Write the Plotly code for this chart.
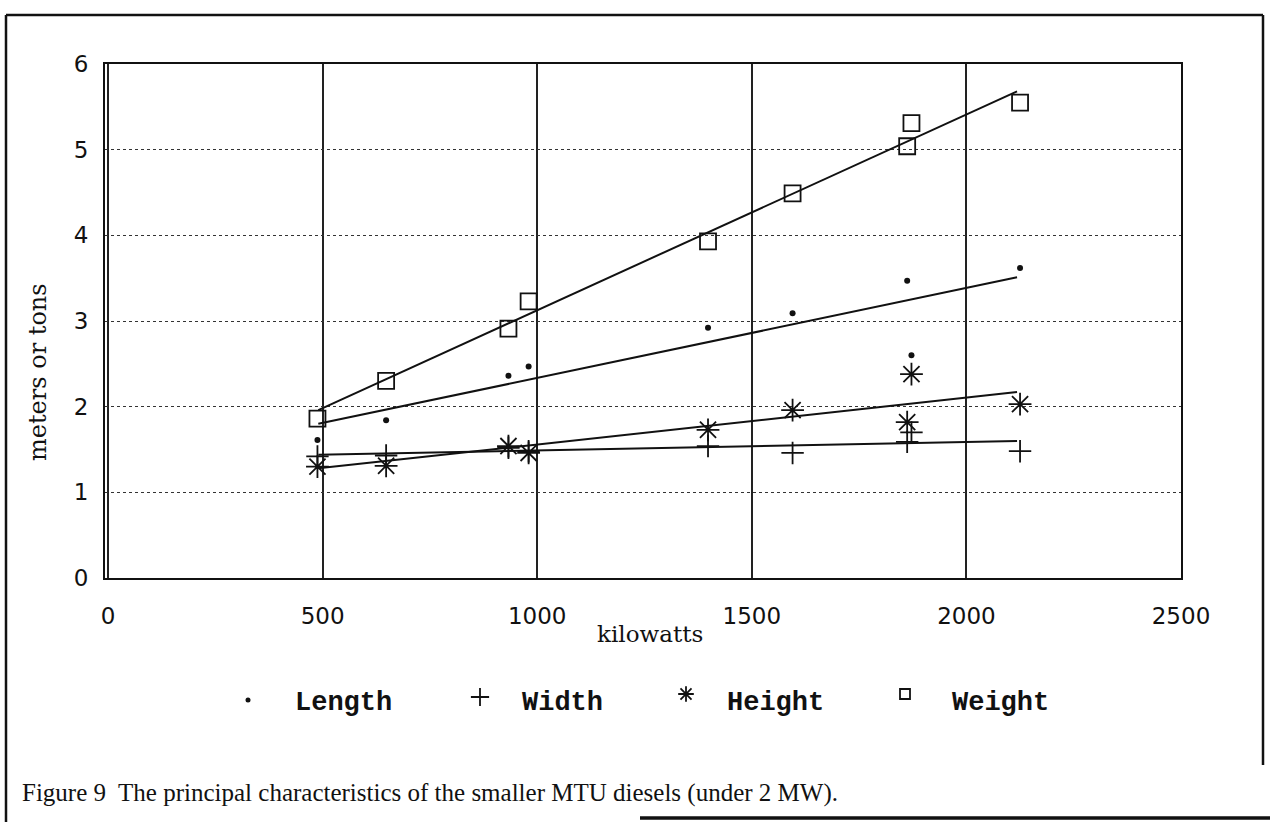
import plotly.graph_objects as go

# ---- data ----
kilowatts = [488, 648, 933, 980, 1398, 1595, 1862, 1872, 2125]
length = [1.61, 1.84, 2.36, 2.47, 2.92, 3.09, 3.47, 2.60, 3.62]
width = [1.42, 1.43, 1.52, 1.48, 1.54, 1.46, 1.59, 1.70, 1.48]
height = [1.30, 1.31, 1.54, 1.46, 1.73, 1.96, 1.82, 2.38, 2.03]
weight = [1.86, 2.30, 2.91, 3.23, 3.93, 4.49, 5.04, 5.31, 5.55]

# fitted trend lines (end points)
fit_kw = [490, 2118]
length_fit = [1.80, 3.51]
width_fit = [1.44, 1.60]
height_fit = [1.28, 2.17]
weight_fit = [1.96, 5.68]

series_names = ["Length", "Width", "Height", "Weight"]
x_ticks = [0, 500, 1000, 1500, 2000, 2500]
y_ticks = [0, 1, 2, 3, 4, 5, 6]
caption = "Figure 9  The principal characteristics of the smaller MTU diesels (under 2 MW)."

W, H = 1270, 822
INK = "#111111"

symbols = {
    "Length": dict(symbol="circle", size=6, color=INK),
    "Width": dict(symbol="cross-thin-open", size=16, color=INK, line=dict(width=1.8, color=INK)),
    "Height": dict(symbol="asterisk-open", size=19, color=INK, line=dict(width=1.8, color=INK)),
    "Weight": dict(symbol="square-open", size=16, color=INK, line=dict(width=1.8, color=INK)),
}
values = {"Length": length, "Width": width, "Height": height, "Weight": weight}
fits = {"Length": length_fit, "Width": width_fit, "Height": height_fit, "Weight": weight_fit}

fig = go.Figure()

for name in series_names:
    fig.add_trace(go.Scatter(x=fit_kw, y=fits[name], mode="lines",
                             line=dict(color=INK, width=2), showlegend=False,
                             hoverinfo="skip"))
for name in series_names:
    fig.add_trace(go.Scatter(x=kilowatts, y=values[name], mode="markers",
                             marker=symbols[name], name=name, showlegend=False))

# legend (manual, in pixel space on an overlay axis)
legend_marker_x = [248, 480, 686, 905]
legend_marker_y = [700, 697, 694, 694]
legend_text_x = [293, 520, 725, 950]
legend_sizes = {"Length": 5, "Width": 13, "Height": 13, "Weight": 10}
for i, name in enumerate(series_names):
    m = dict(symbols[name])
    m["size"] = legend_sizes[name]
    fig.add_trace(go.Scatter(x=[legend_marker_x[i]], y=[legend_marker_y[i]], mode="markers",
                             marker=m, xaxis="x2", yaxis="y2", showlegend=False,
                             hoverinfo="skip"))
    fig.add_annotation(x=legend_text_x[i], y=703, xref="x2", yref="y2", text="<b>%s</b>" % name,
                       showarrow=False, xanchor="left", yanchor="middle",
                       font=dict(family="Liberation Mono", size=27, color=INK))

# axis titles
fig.add_annotation(x=650, y=634, xref="x2", yref="y2", text="kilowatts", showarrow=False,
                   xanchor="center", yanchor="middle",
                   font=dict(family="DejaVu Serif", size=23, color=INK))
fig.add_annotation(x=38, y=372, xref="x2", yref="y2", text="meters or tons", showarrow=False,
                   textangle=-90, xanchor="center", yanchor="middle",
                   font=dict(family="DejaVu Serif", size=24, color=INK))
# caption
fig.add_annotation(x=20, y=793, xref="x2", yref="y2", text=caption, showarrow=False,
                   xanchor="left", yanchor="middle",
                   font=dict(family="Liberation Serif", size=25, color=INK))

# outer frame
frame = [
    (6, 15, 1263, 15, 2.5),
    (6, 15, 6, 822, 2.5),
    (1263, 15, 1263, 765, 2.5),
    (640, 818, 1270, 818, 3.5),
]
for x0, y0, x1, y1, w in frame:
    fig.add_shape(type="line", x0=x0, y0=y0, x1=x1, y1=y1, xref="x2", yref="y2",
                  line=dict(color=INK, width=w))

fig.update_layout(
    width=W, height=H,
    margin=dict(l=0, r=0, t=0, b=0, autoexpand=False),
    paper_bgcolor="white", plot_bgcolor="rgba(0,0,0,0)",
    showlegend=False,
    xaxis=dict(domain=[105 / W, 1181 / W], range=[-7, 2500], tickvals=x_ticks,
               showgrid=True, gridcolor="#222222", gridwidth=2, zeroline=False,
               showline=True, mirror=True, linecolor=INK, linewidth=2, ticks="",
               tickfont=dict(family="DejaVu Sans", size=23, color=INK),
               ticklabelstandoff=16, automargin=False, anchor="y"),
    yaxis=dict(domain=[1 - 578 / H, 1 - 64 / H], range=[0, 6], tickvals=y_ticks,
               showgrid=True, gridcolor="#333333", griddash="dot", gridwidth=1.3,
               zeroline=False, showline=True, mirror=True, linecolor=INK, linewidth=2,
               ticks="", tickfont=dict(family="DejaVu Sans", size=23, color=INK),
               ticklabelstandoff=10, automargin=False, anchor="x"),
    xaxis2=dict(domain=[0, 1], range=[0, W], visible=False, anchor="y2", fixedrange=True),
    yaxis2=dict(domain=[0, 1], range=[H, 0], visible=False, anchor="x2", fixedrange=True),
)

fig.write_html("out.html", config={"displayModeBar": False},
               post_script="document.body.style.margin='0px';")
